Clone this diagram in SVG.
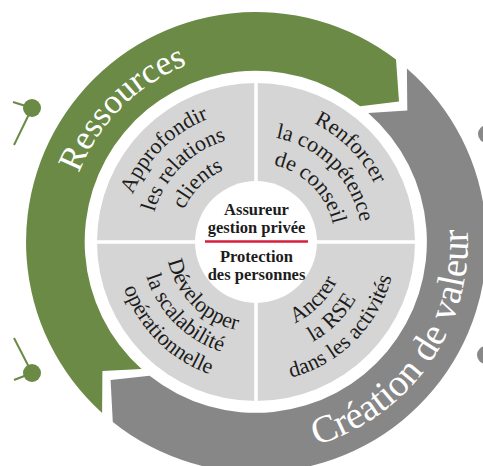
<svg xmlns="http://www.w3.org/2000/svg" width="483" height="466" viewBox="0 0 483 466">
<style>
.q{font-family:"Liberation Serif","Times New Roman",serif;font-size:22px;fill:#1c1c1c;}
.big{font-family:"Liberation Serif","Times New Roman",serif;fill:#ffffff;}
.c{font-family:"Liberation Serif","Times New Roman",serif;font-size:16.5px;font-weight:bold;fill:#1c1c1c;text-anchor:middle;}
.div{stroke:#ffffff;stroke-width:3.5;}
.gl{stroke:#6a8a45;stroke-width:2;fill:none;}
</style>
<defs>
<path id="pUL1" d="M124.5,230.5 A132,132 0 0 1 244.5,110.5"/>
<path id="pUL2" d="M150.4,232.8 A106,106 0 0 1 246.8,136.4"/>
<path id="pUL3" d="M177.3,235.1 A79,79 0 0 1 249.1,163.3"/>
<path id="pUR1" d="M267.5,110.5 A132,132 0 0 1 387.5,230.5"/>
<path id="pUR2" d="M265.2,136.4 A106,106 0 0 1 361.6,232.8"/>
<path id="pUR3" d="M262.9,163.3 A79,79 0 0 1 334.7,235.1"/>
<path id="pLL1" d="M166.3,249.8 A90,90 0 0 0 248.2,331.7"/>
<path id="pLL2" d="M141.4,252.0 A115,115 0 0 0 246.0,356.6"/>
<path id="pLL3" d="M116.5,254.2 A140,140 0 0 0 243.8,381.5"/>
<path id="pLR1" d="M263.8,331.7 A90,90 0 0 0 345.7,249.8"/>
<path id="pLR2" d="M266.0,356.6 A115,115 0 0 0 370.6,252.0"/>
<path id="pLR3" d="M268.2,381.5 A140,140 0 0 0 395.5,254.2"/>
<path id="pRes" d="M72.5,291.2 A190,190 0 0 1 305.2,58.5"/>
<path id="pCre" d="M183.5,441.2 A212,212 0 0 0 418.4,105.7"/>
</defs>

<g id="decor">
<line class="gl" x1="13" y1="102" x2="32" y2="108"/>
<line class="gl" x1="32" y1="108" x2="14" y2="145"/>
<circle cx="32" cy="108" r="9" fill="#6a8a45"/>
<line class="gl" x1="14" y1="338" x2="32" y2="373"/>
<line class="gl" x1="14" y1="380" x2="32" y2="373"/>
<circle cx="32" cy="373" r="9" fill="#6a8a45"/>
<circle cx="487" cy="134" r="9" fill="#888888"/>
<circle cx="486" cy="355" r="9" fill="#888888"/>
</g>

<g id="ring-ressources">
<path d="M102.1,412.9 A230,230 0 0 1 396.0,59.5 L399.0,101.5 L360.1,106.3 A171,171 0 0 0 141.6,369.1 L102.4,370.9 Z" fill="#6a8a45"/>
<text class="big" font-size="35"><textPath href="#pRes" startOffset="50%" text-anchor="middle">Ressources</textPath></text>
</g>

<g id="ring-creation">
<path d="M406.9,68.4 A230,230 0 0 1 112.8,422.0 L110.6,380.0 L149.6,375.8 A171,171 0 0 0 368.2,112.9 L407.3,110.5 Z" fill="#878787"/>
<text class="big" font-size="38.5"><textPath href="#pCre" startOffset="50%" text-anchor="middle">Création de valeur</textPath></text>
</g>

<g id="disk">
<circle cx="256" cy="242" r="159" fill="#d5d5d5"/>
<line class="div" x1="256" y1="80" x2="256" y2="404"/>
<line class="div" x1="94" y1="242" x2="418" y2="242"/>
</g>

<g id="q-approfondir">
<text class="q"><textPath href="#pUL1" startOffset="50%" text-anchor="middle">Approfondir</textPath></text>
<text class="q"><textPath href="#pUL2" startOffset="50%" text-anchor="middle">les relations</textPath></text>
<text class="q"><textPath href="#pUL3" startOffset="50%" text-anchor="middle">clients</textPath></text>
</g>
<g id="q-renforcer">
<text class="q"><textPath href="#pUR1" startOffset="50%" text-anchor="middle">Renforcer</textPath></text>
<text class="q"><textPath href="#pUR2" startOffset="50%" text-anchor="middle">la compétence</textPath></text>
<text class="q"><textPath href="#pUR3" startOffset="50%" text-anchor="middle">de conseil</textPath></text>
</g>
<g id="q-developper">
<text class="q"><textPath href="#pLL1" startOffset="50%" text-anchor="middle">Développer</textPath></text>
<text class="q"><textPath href="#pLL2" startOffset="50%" text-anchor="middle">la scalabilité</textPath></text>
<text class="q"><textPath href="#pLL3" startOffset="50%" text-anchor="middle">opérationnelle</textPath></text>
</g>
<g id="q-ancrer">
<text class="q"><textPath href="#pLR1" startOffset="50%" text-anchor="middle">Ancrer</textPath></text>
<text class="q"><textPath href="#pLR2" startOffset="50%" text-anchor="middle">la RSE</textPath></text>
<text class="q"><textPath href="#pLR3" startOffset="50%" text-anchor="middle">dans les activités</textPath></text>
</g>

<g id="center">
<circle cx="256" cy="242" r="61" fill="#ffffff"/>
<text class="c" x="256.5" y="215">Assureur</text>
<text class="c" x="256.5" y="233">gestion privée</text>
<line x1="205" y1="241.5" x2="308" y2="241.5" stroke="#d81e3c" stroke-width="2.5"/>
<text class="c" x="256.5" y="262">Protection</text>
<text class="c" x="256.5" y="280">des personnes</text>
</g>
</svg>
